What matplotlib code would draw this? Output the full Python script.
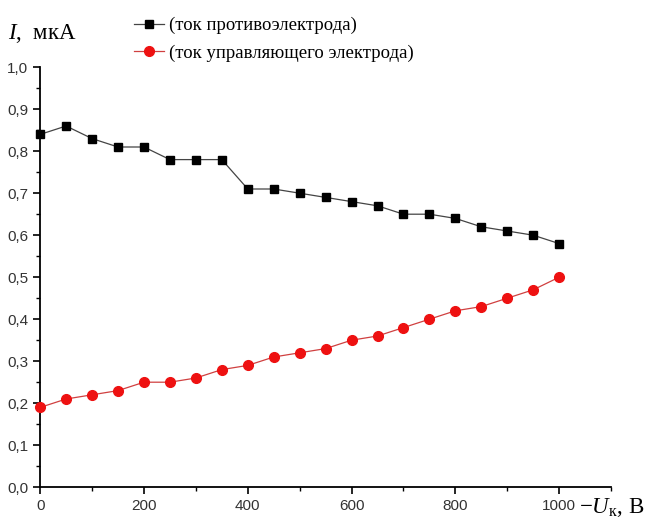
import matplotlib
matplotlib.use("Agg")
import matplotlib.pyplot as plt
from matplotlib.ticker import MultipleLocator, FuncFormatter

plt.rcParams["mathtext.fontset"] = "custom"
plt.rcParams["mathtext.rm"] = "Liberation Serif"
plt.rcParams["mathtext.it"] = "Liberation Serif:italic"

# data
voltage = [0, 50, 100, 150, 200, 250, 300, 350, 400, 450, 500,
           550, 600, 650, 700, 750, 800, 850, 900, 950, 1000]
counter_current = [0.84, 0.86, 0.83, 0.81, 0.81, 0.78, 0.78, 0.78, 0.71, 0.71, 0.70,
                   0.69, 0.68, 0.67, 0.65, 0.65, 0.64, 0.62, 0.61, 0.60, 0.58]
control_current = [0.19, 0.21, 0.22, 0.23, 0.25, 0.25, 0.26, 0.28, 0.29, 0.31, 0.32,
                   0.33, 0.35, 0.36, 0.38, 0.40, 0.42, 0.43, 0.45, 0.47, 0.50]
labels = ["(ток противоэлектрода)", "(ток управляющего электрода)"]

fig = plt.figure(figsize=(6.48, 5.25), dpi=100)
ax = fig.add_axes([0.062, 0.072, 0.881, 0.8])

l1, = ax.plot(voltage, counter_current, color="#444444", lw=0.9, marker="s",
              ms=6, mfc="black", mec="black", clip_on=False, zorder=3)
l2, = ax.plot(voltage, control_current, color="#d04040", lw=0.9, marker="o",
              ms=7, mfc="#ee1111", mec="#ee1111", clip_on=False, zorder=3)

ax.set_xlim(0, 1100)
ax.set_ylim(0, 1.0)
ax.xaxis.set_major_locator(MultipleLocator(200))
ax.xaxis.set_minor_locator(MultipleLocator(100))
ax.yaxis.set_major_locator(MultipleLocator(0.1))
ax.yaxis.set_minor_locator(MultipleLocator(0.05))
ax.yaxis.set_major_formatter(FuncFormatter(lambda v, p: f"{v:.1f}".replace(".", ",")))
ax.xaxis.set_major_formatter(FuncFormatter(lambda v, p: "" if v > 1000 else f"{v:.0f}"))

for s in ["top", "right"]:
    ax.spines[s].set_visible(False)
for s in ["left", "bottom"]:
    ax.spines[s].set_linewidth(1.3)

ax.tick_params(which="major", direction="out", length=5, width=1.2,
               labelsize=11, colors="black", labelcolor="#333333")
ax.tick_params(which="minor", direction="out", length=3, width=1.0)
for t in ax.get_xticklabels() + ax.get_yticklabels():
    t.set_fontfamily("Liberation Sans")

fig.text(0.013, 0.925, r"$I$,  мкА", fontsize=16.5, family="Liberation Serif",
         ha="left", va="baseline")
fig.text(0.893, 0.022, r"$-U_{\rm к}$, В", fontsize=16.5, family="Liberation Serif",
         ha="left", va="baseline")

leg = fig.legend([l1, l2], labels, loc="upper left", bbox_to_anchor=(0.18, 1.0),
                 frameon=False, prop={"family": "Liberation Serif", "size": 13.5},
                 handlelength=1.6, handletextpad=0.3, labelspacing=0.55)

fig.savefig("out.png", dpi=100)
